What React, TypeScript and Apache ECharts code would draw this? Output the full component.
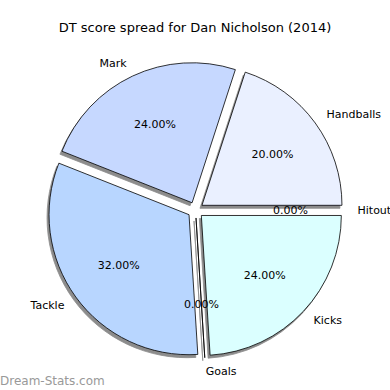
import React, { useEffect, useRef } from "react";
import * as echarts from "echarts";

const categories = ["Handballs", "Mark", "Tackle", "Goals", "Kicks", "Hitout"];
const values = [20, 24, 32, 0, 24, 0];
const colors = ["#eaf0ff", "#c6d8ff", "#b8d6ff", "#ffffff", "#dbffff", "#ffffff"];
const titleText = "DT score spread for Dan Nicholson (2014)";
const watermark = "Dream-Stats.com";

export default function App() {
  const ref = useRef<HTMLDivElement>(null);
  useEffect(() => {
    document.body.style.margin = "0";
    const chart = echarts.init(ref.current!, undefined, { renderer: "svg" });
    const total = values.reduce((a, b) => a + b, 0);
    const font = "DejaVu Sans";
    const center = [195.5, 210];
    const R = 140;
    const data = categories.map((c, i) => ({
      name: c,
      value: values[i],
      selected: true,
      itemStyle: { color: colors[i] },
    }));
    chart.setOption({
      animation: false,
      title: {
        text: titleText,
        left: "center",
        top: 16,
        textStyle: { fontFamily: font, fontSize: 13, fontWeight: "normal", color: "#000" },
      },
      graphic: [
        {
          type: "text",
          left: 0,
          bottom: 3,
          style: { text: watermark, fill: "#999999", font: "12px DejaVu Sans" },
        },
      ],
      series: [
        {
          type: "pie",
          center,
          radius: R,
          startAngle: 0,
          clockwise: false,
          selectedMode: "multiple",
          selectedOffset: 8,
          avoidLabelOverlap: false,
          silent: true,
          emphasis: { disabled: true },
          itemStyle: {
            borderColor: "#000",
            borderWidth: 0.8,
            shadowColor: "rgba(0,0,0,0.45)",
            shadowBlur: 0,
            shadowOffsetX: -2,
            shadowOffsetY: 3,
          },
          label: {
            show: true,
            position: "outside",
            formatter: "{b}",
            fontFamily: font,
            fontSize: 11,
            color: "#000",
            distanceToLabelLine: 0,
            overflow: "none",
          },
          labelLine: { show: false, length: 14, length2: 0 },
          data,
        },
        {
          type: "pie",
          center,
          radius: R * 1.2,
          startAngle: 0,
          clockwise: false,
          selectedMode: "multiple",
          selectedOffset: 8,
          avoidLabelOverlap: false,
          silent: true,
          emphasis: { disabled: true },
          itemStyle: { color: "rgba(0,0,0,0)", borderWidth: 0 },
          label: {
            show: true,
            position: "inside",
            formatter: (p: any) => ((values[p.dataIndex] / total) * 100).toFixed(2) + "%",
            fontFamily: font,
            fontSize: 11,
            color: "#000",
          },
          labelLine: { show: false },
          data: categories.map((c, i) => ({ name: c, value: values[i], selected: true })),
        },
      ],
    });
    return () => chart.dispose();
  }, []);
  return <div ref={ref} style={{ width: 390, height: 390, background: "#fff" }} />;
}
